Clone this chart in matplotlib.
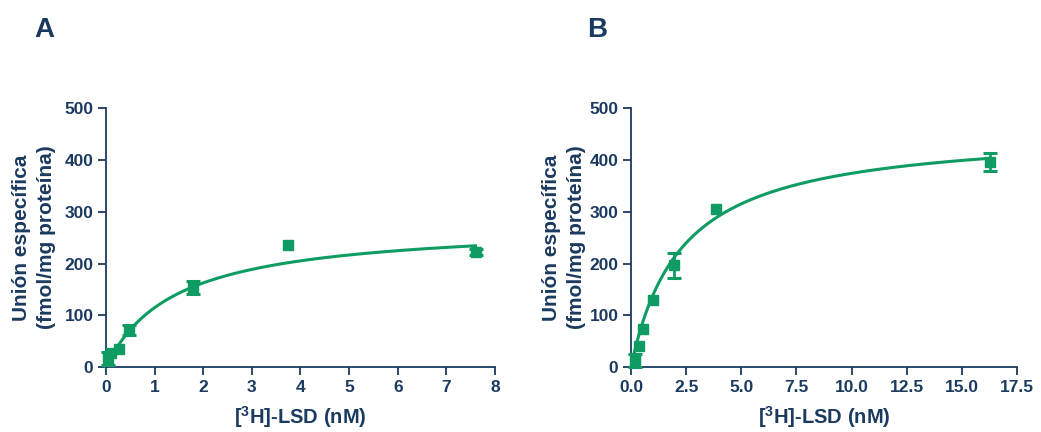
import matplotlib
matplotlib.use('Agg')
import matplotlib.pyplot as plt
import numpy as np

plt.rcParams['font.family'] = ['Liberation Sans', 'DejaVu Sans']
plt.rcParams['font.weight'] = 'bold'
plt.rcParams['mathtext.fontset'] = 'custom'
plt.rcParams['mathtext.bf'] = 'Liberation Sans:bold'
plt.rcParams['mathtext.rm'] = 'Liberation Sans:bold'

NAVY = '#1b3a5f'
GREEN = '#0e9c62'

# panel A: saturation binding, [3H]-LSD (nM) vs specific binding
a_conc = [0.04, 0.10, 0.27, 0.47, 1.79, 3.74, 7.60]
a_bound = [17, 27, 36, 72, 154, 236, 222]
a_err = [12, 4, 3, 10, 12, 0, 6]
# one-site fit
a_bmax, a_kd = 278, 1.42

# panel B
b_conc = [0.18, 0.36, 0.55, 1.00, 1.95, 3.85, 16.3]
b_bound = [13, 40, 73, 129, 197, 305, 396]
b_err = [12, 3, 3, 3, 24, 0, 18]
b_bmax, b_kd = 460, 2.3

a_ticks = [0, 1, 2, 3, 4, 5, 6, 7, 8]
b_ticks = [0, 2.5, 5, 7.5, 10, 12.5, 15, 17.5]
y_ticks = [0, 100, 200, 300, 400, 500]


def draw_panel(ax, conc, bound, err, bmax, kd, xticks, xfmt, xmax, ylabel_x):
    conc = np.asarray(conc, float)
    bound = np.asarray(bound, float)
    err = np.asarray(err, float)
    xx = np.linspace(0, conc.max(), 300)
    ax.plot(xx, bmax * xx / (kd + xx), color=GREEN, lw=2.2, zorder=2,
            clip_on=False)
    ax.plot(conc, bound, 's', color=GREEN, ms=7.5, zorder=3, clip_on=False)
    # caps of tiny error bars sit inside the marker, so only draw the visible ones
    big = err > 5
    eb = ax.errorbar(conc[big], bound[big], yerr=err[big], fmt='none',
                     ecolor=GREEN, elinewidth=2, capsize=5, capthick=2.2,
                     zorder=3)
    for art in eb.lines[1] + eb.lines[2]:
        art.set_clip_on(False)
    ax.set_xlim(0, xmax)
    ax.set_ylim(0, 500)
    ax.set_xticks(xticks)
    ax.set_xticklabels([xfmt.format(t) for t in xticks])
    ax.set_yticks(y_ticks)
    for s in ['top', 'right']:
        ax.spines[s].set_visible(False)
    for s in ['left', 'bottom']:
        ax.spines[s].set_color(NAVY)
        ax.spines[s].set_linewidth(1.3)
    ax.tick_params(colors=NAVY, labelsize=12.5, length=6, width=1.3, pad=3)
    for lab in ax.get_xticklabels() + ax.get_yticklabels():
        lab.set_fontweight('bold')
    ax.set_xlabel(r'[$\mathbf{^3}$H]-LSD (nM)', fontsize=14.5, color=NAVY,
                  fontweight='bold', labelpad=7)
    ax.set_ylabel('Unión específica\n(fmol/mg proteína)', fontsize=15,
                  color=NAVY, fontweight='bold', linespacing=1.4)
    ax.yaxis.set_label_coords(ylabel_x, 0.5)


fig = plt.figure(figsize=(10.41, 4.32), dpi=100)
ax_a = fig.add_axes([0.1018, 0.150, 0.3737, 0.600])
ax_b = fig.add_axes([0.6061, 0.150, 0.3708, 0.600])

draw_panel(ax_a, a_conc, a_bound, a_err, a_bmax, a_kd, a_ticks, '{:g}', 8,
           -0.129)
draw_panel(ax_b, b_conc, b_bound, b_err, b_bmax, b_kd, b_ticks, '{:.1f}', 17.5,
           -0.117)

fig.text(0.043, 0.93, 'A', fontsize=20, fontweight='bold', color=NAVY,
         ha='center', va='center')
fig.text(0.574, 0.93, 'B', fontsize=20, fontweight='bold', color=NAVY,
         ha='center', va='center')

fig.savefig('out.png', dpi=100)
